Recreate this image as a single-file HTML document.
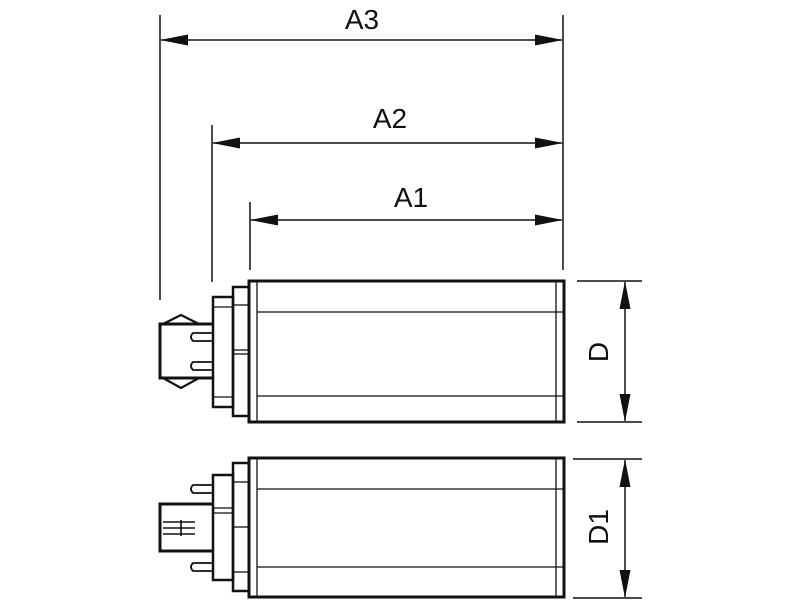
<!DOCTYPE html>
<html><head><style>body{margin:0;background:#fff}svg{display:block}</style></head><body>
<svg width="800" height="600" viewBox="0 0 800 600" xmlns="http://www.w3.org/2000/svg">
<defs>
<marker id="a" viewBox="0 0 28 12" refX="27" refY="6" markerWidth="28" markerHeight="12" markerUnits="userSpaceOnUse" orient="auto-start-reverse" preserveAspectRatio="none"><path d="M0,0.5 L28,6 L0,11.5z" fill="#111"/></marker>
</defs>
<g stroke="#111" stroke-width="1.5" fill="none">
<line x1="160" y1="15" x2="160" y2="300"/>
<line x1="563" y1="15" x2="563" y2="270"/>
<line x1="212" y1="125" x2="212" y2="282"/>
<line x1="250" y1="202" x2="250" y2="270"/>
<line x1="161" y1="40" x2="562" y2="40" marker-start="url(#a)" marker-end="url(#a)"/>
<line x1="213" y1="143" x2="562" y2="143" marker-start="url(#a)" marker-end="url(#a)"/>
<line x1="251" y1="220" x2="562" y2="220" marker-start="url(#a)" marker-end="url(#a)"/>
<line x1="577" y1="281" x2="642" y2="281"/>
<line x1="577" y1="422" x2="642" y2="422"/>
<line x1="625" y1="282" x2="625" y2="421" marker-start="url(#a)" marker-end="url(#a)"/>
<line x1="573" y1="459" x2="642" y2="459"/>
<line x1="573" y1="598" x2="642" y2="598"/>
<line x1="625" y1="460" x2="625" y2="597" marker-start="url(#a)" marker-end="url(#a)"/>
</g>
<g stroke="#111" fill="none">
<rect x="249" y="281" width="315" height="141" stroke-width="3"/>
<line x1="257" y1="282" x2="257" y2="421" stroke-width="1.3"/>
<line x1="556" y1="282" x2="556" y2="421" stroke-width="1.3"/>
<line x1="257" y1="312" x2="564" y2="312" stroke-width="1.3"/>
<line x1="257" y1="396" x2="564" y2="396" stroke-width="1.3"/>
<rect x="233" y="287" width="16" height="129" stroke-width="2.5"/>
<line x1="233" y1="305" x2="249" y2="305" stroke-width="1.3"/>
<line x1="233" y1="350" x2="249" y2="350" stroke-width="1.3"/>
<line x1="233" y1="354" x2="249" y2="354" stroke-width="1.3"/>
<rect x="213" y="297" width="20" height="110" stroke-width="2.5"/>
<line x1="213" y1="307" x2="233" y2="307" stroke-width="1.3"/>
<line x1="213" y1="397" x2="233" y2="397" stroke-width="1.3"/>
<path d="M213,324 L160,324 L160,378 L213,378" stroke-width="3"/>
<path d="M163,324 L181,315 L199,324 M163,378 L181,388 L199,378" stroke-width="2.2"/>
<path d="M213,333 L193,333 Q189,337 193,341 L213,341" stroke-width="1.8"/>
<path d="M213,362 L193,362 Q189,366 193,370 L213,370" stroke-width="1.8"/>
<rect x="249" y="458" width="315" height="139" stroke-width="3"/>
<line x1="257" y1="459" x2="257" y2="596" stroke-width="1.3"/>
<line x1="556" y1="459" x2="556" y2="596" stroke-width="1.3"/>
<line x1="257" y1="489" x2="564" y2="489" stroke-width="1.3"/>
<line x1="257" y1="567" x2="564" y2="567" stroke-width="1.3"/>
<rect x="233" y="463" width="16" height="128" stroke-width="2.5"/>
<line x1="233" y1="482" x2="249" y2="482" stroke-width="1.3"/>
<line x1="233" y1="527" x2="249" y2="527" stroke-width="1.3"/>
<line x1="233" y1="572" x2="249" y2="572" stroke-width="1.3"/>
<rect x="213" y="475" width="20" height="105" stroke-width="2.5"/>
<line x1="213" y1="508" x2="233" y2="508" stroke-width="1.3"/>
<line x1="213" y1="513" x2="233" y2="513" stroke-width="1.3"/>
<path d="M213,504 L160,504 L160,551 L213,551" stroke-width="3"/>
<path d="M163,522 L195,522 M163,528 L195,528 M163,534 L195,534 M181,520 L181,536" stroke-width="1.6"/>
<path d="M213,485 L193,485 Q189,489 193,493 L213,493" stroke-width="1.8"/>
<path d="M213,563 L193,563 Q189,567 193,571 L213,571" stroke-width="1.8"/>
</g>
<g font-family="Liberation Sans, sans-serif" font-size="28" fill="#111" text-anchor="middle">
<text x="362" y="29">A3</text>
<text x="390" y="128">A2</text>
<text x="411" y="207">A1</text>
<text transform="translate(608,352) rotate(-90)">D</text>
<text transform="translate(608,527) rotate(-90)">D1</text>
</g>
</svg>
</body></html>
